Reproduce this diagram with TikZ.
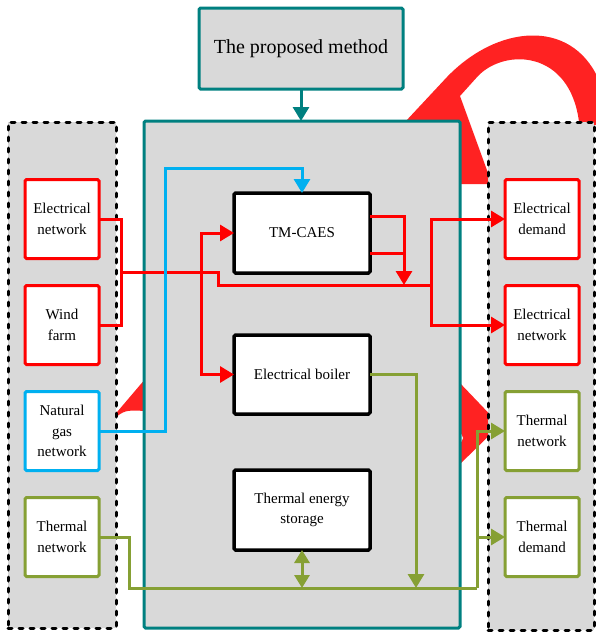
\documentclass[tikz,border=0pt]{standalone}
\usepackage{fontspec}
\setmainfont{Liberation Serif}
\usetikzlibrary{arrows.meta,calc}
\definecolor{tealc}{RGB}{0,128,128}
\definecolor{grayf}{RGB}{217,217,217}
\definecolor{bluec}{RGB}{0,176,240}
\definecolor{olivec}{RGB}{134,160,52}
\definecolor{redc}{RGB}{255,0,0}
\definecolor{redart}{RGB}{255,34,34}
\begin{document}
\begin{tikzpicture}[x=1pt,y=-1pt,
  every node/.style={font=\fontsize{15}{20.5}\selectfont, align=center, inner sep=0pt, outer sep=0pt},
  panel/.style={draw=black, fill=grayf, line width=3pt, dash pattern=on 4pt off 7pt, line cap=round},
  mainbox/.style={draw=tealc, fill=grayf, line width=3pt, rounded corners=1.5pt},
  sidebox/.style={fill=white, line width=3pt, rounded corners=1.5pt, minimum width=74pt, minimum height=79pt},
  corebox/.style={draw=black, fill=white, line width=3.5pt, rounded corners=1.5pt, minimum width=136pt, minimum height=80pt},
  conn/.style={line width=3pt},
  tip/.style={-{Triangle[length=14pt,width=16pt]}},
  dtip/.style={{Triangle[length=13pt,width=15pt]}-{Triangle[length=13pt,width=15pt]}}
]
\useasboundingbox (0,0) rectangle (595,635);

% red background artefacts
\fill[redart] (405,122) -- (447,77) .. controls (497,25) and (570,18) .. (598,78)
  -- (598,125) -- (579,125) -- (579,122) .. controls (570,50) and (505,48) .. (478,76)
  -- (460,96) -- (492,184) -- (452,184) -- (452,122) -- cycle;
\fill[redart] (112,418) -- (146,378) -- (146,411) .. controls (125,410) .. (112,420) -- cycle;
\fill[redart] (458,381) -- (500,425) -- (458,466) -- cycle;
\fill[white] (458,438) circle (5);

% panels
\node[panel, minimum width=108pt, minimum height=506pt] (lp) at (62,375) {};
\node[panel, minimum width=106pt, minimum height=508pt] (rp) at (541,376) {};
\node[mainbox, minimum width=316pt, minimum height=507pt] (main) at (302,374.5) {};
\node[mainbox, minimum width=204pt, minimum height=81pt, font=\fontsize{20}{24}\selectfont] (title) at (301,48.5) {The proposed method};

% left boxes
\node[sidebox, draw=redc] (len) at (62,219) {Electrical\\network};
\node[sidebox, draw=redc] (wf) at (62,325) {Wind\\farm};
\node[sidebox, draw=bluec] (ng) at (62,431) {Natural\\gas\\network};
\node[sidebox, draw=olivec] (ltn) at (62,537) {Thermal\\network};

% right boxes
\node[sidebox, draw=redc] (ed) at (542,219) {Electrical\\demand};
\node[sidebox, draw=redc] (ren) at (542,325) {Electrical\\network};
\node[sidebox, draw=olivec] (rtn) at (542,431) {Thermal\\network};
\node[sidebox, draw=olivec] (td) at (542,537) {Thermal\\demand};

% core boxes
\node[corebox] (tm) at (302,233) {TM-CAES};
\node[corebox, minimum height=79pt] (eb) at (302,374.5) {Electrical boiler};
\node[corebox] (tes) at (302,510) {Thermal energy\\storage};

% coordinates
\coordinate (jL) at (121,272);
\coordinate (jM) at (201,272);
\coordinate (jR) at (431,285);
\coordinate (jT) at (404,285);
\coordinate (bB) at (165,168);
\coordinate (oL) at (129,588);
\coordinate (oR) at (477,588);
\coordinate (oE) at (416,588);

% title arrow
\draw[conn, tealc, tip] (title.south) -- (title.south |- main.north);

% red connectors
\draw[conn, redc] (len.east) -| (jL) |- (wf.east);
\draw[conn, redc] (jL) -- (218,272) -- (218,285) -- (jR);
\draw[conn, redc, tip] (jR) |- (ed.west);
\draw[conn, redc, tip] (jR) |- (ren.west);
\draw[conn, redc, tip] (jM) |- (tm.west);
\draw[conn, redc, tip] (jM) |- (eb.west);
\draw[conn, redc] ([yshift=17pt]tm.east) -| ([yshift=-20pt]jT |- tm.east);
\draw[conn, redc, tip] ([yshift=-20pt]tm.east) -| (jT);

% blue connector
\draw[conn, bluec, tip] (ng.east) -| (bB) -| (tm.north);

% olive connectors
\draw[conn, olivec] (ltn.east) -| (oL) -- (oR);
\draw[conn, olivec, tip] (oR) |- (rtn.west);
\draw[conn, olivec, tip] (oR) |- (td.west);
\draw[conn, olivec, tip] (eb.east) -| (oE);
\draw[conn, olivec, dtip] (tes.south) -- (tes.south |- oL);
\end{tikzpicture}
\end{document}
